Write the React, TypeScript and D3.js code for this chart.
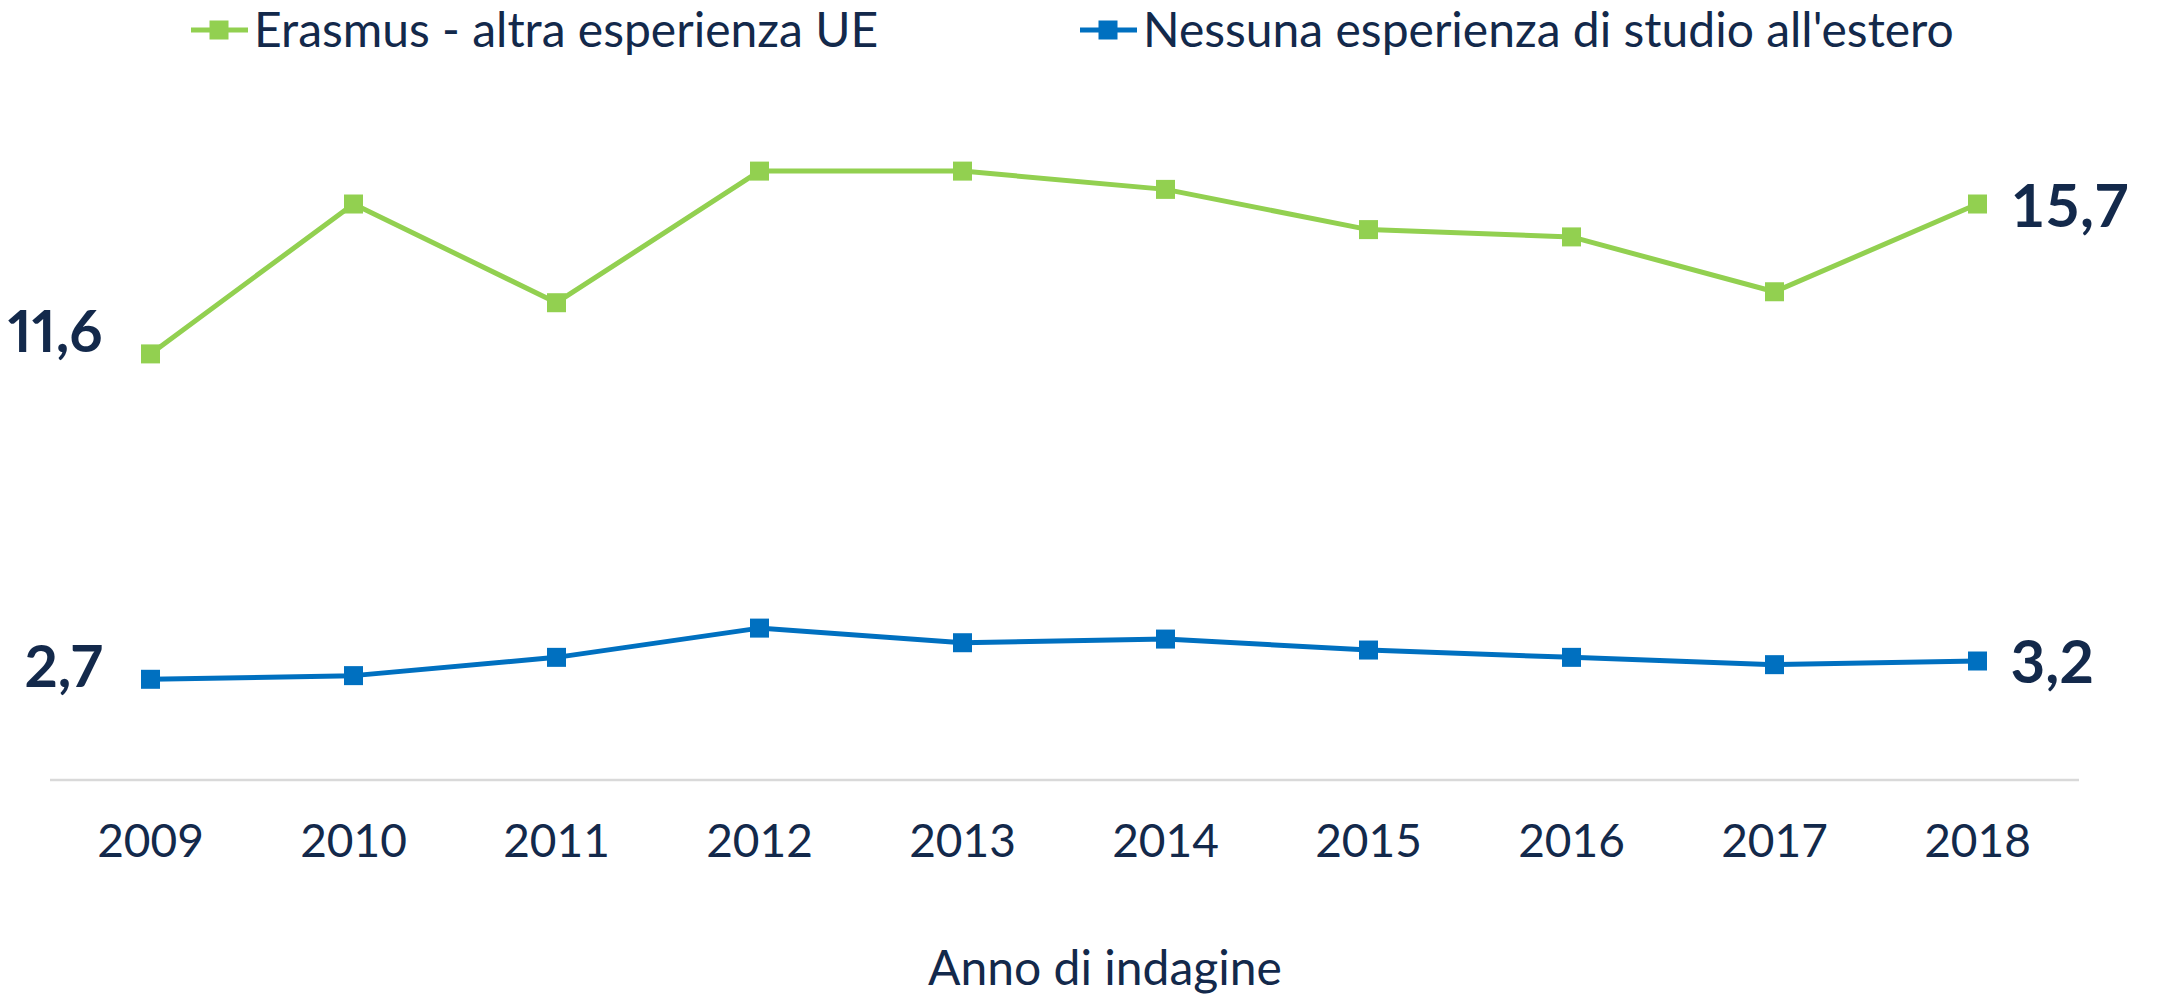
import React from "react";
import * as d3 from "d3";

const years: string[] = ["2009", "2010", "2011", "2012", "2013", "2014", "2015", "2016", "2017", "2018"];
const erasmus: number[] = [11.6, 15.7, 13.0, 16.6, 16.6, 16.1, 15.0, 14.8, 13.3, 15.7];
const nessuna: number[] = [2.7, 2.8, 3.3, 4.1, 3.7, 3.8, 3.5, 3.3, 3.1, 3.2];
const seriesNames: string[] = ["Erasmus - altra esperienza UE", "Nessuna esperienza di studio all'estero"];
const seriesColors: string[] = ["#92D050", "#0070C0"];
const axisTitle = "Anno di indagine";

const W = 2157;
const H = 997;
const TEXT = "#13294B";
const FONT = "Lato, 'Open Sans', sans-serif";

export default function App() {
  const x = d3.scalePoint<string>().domain(years).range([49, 2079]).padding(0.5);
  const y = d3.scaleLinear().domain([0, 17]).range([778, 778 - 17 * 36.56]);
  const line = d3
    .line<number>()
    .x((_, i) => x(years[i]) as number)
    .y((d) => y(d));
  const series = [erasmus, nessuna];
  const ms = 19;
  const fmt = (v: number) => v.toFixed(1).replace(".", ",");
  const first = years[0];
  const last = years[years.length - 1];
  const legendX = [191, 1080];
  const leftDy = [-2, 7.5];
  const rightDy = [23, 22];

  return (
    <svg width={W} height={H} style={{ position: "absolute", left: 0, top: 0, background: "#fff" }} fontFamily={FONT}>
      {/* legend */}
      {seriesNames.map((n, i) => (
        <g key={n} transform={`translate(${legendX[i]},30)`}>
          <line x1={0} x2={57} y1={0} y2={0} stroke={seriesColors[i]} strokeWidth={5} />
          <rect x={28 - 9.5} y={-9.5} width={19} height={19} fill={seriesColors[i]} />
          <text x={63} y={17} fontSize={48} fill={TEXT}>
            {n}
          </text>
        </g>
      ))}
      {/* axis line */}
      <line x1={50} x2={2079} y1={780} y2={780} stroke="#D9D9D9" strokeWidth={2.5} />
      {years.map((yr) => (
        <text key={yr} x={x(yr)} y={857} textAnchor="middle" fontSize={46} fill={TEXT}>
          {yr}
        </text>
      ))}
      <text x={1105} y={985} textAnchor="middle" fontSize={48} fill={TEXT}>
        {axisTitle}
      </text>
      {series.map((s, si) => (
        <g key={si}>
          <path d={line(s) || ""} fill="none" stroke={seriesColors[si]} strokeWidth={5} strokeLinejoin="round" />
          {s.map((v, i) => (
            <rect
              key={i}
              x={(x(years[i]) as number) - ms / 2}
              y={y(v) - ms / 2}
              width={ms}
              height={ms}
              fill={seriesColors[si]}
            />
          ))}
          <text
            x={(x(first) as number) - 48}
            y={y(s[0]) + leftDy[si]}
            textAnchor="end"
            fontSize={58}
            fontWeight="bold"
            fill={TEXT}
            style={{ fontVariantNumeric: "proportional-nums" }}
          >
            {fmt(s[0])}
          </text>
          <text
            x={(x(last) as number) + 33}
            y={y(s[s.length - 1]) + rightDy[si]}
            textAnchor="start"
            fontSize={60}
            fontWeight="bold"
            fill={TEXT}
          >
            {fmt(s[s.length - 1])}
          </text>
        </g>
      ))}
    </svg>
  );
}
